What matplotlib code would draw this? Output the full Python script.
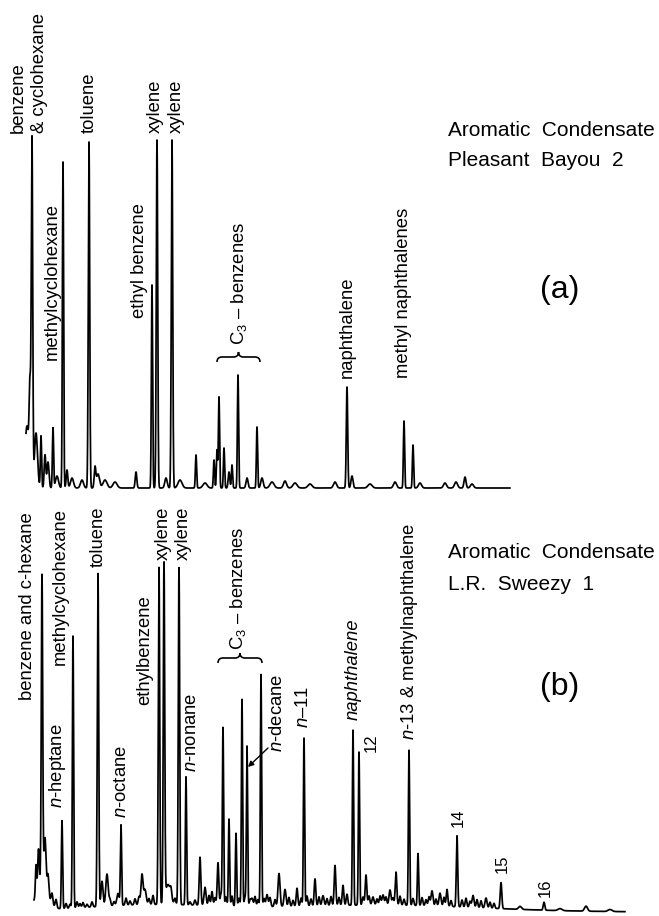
import numpy as np
import matplotlib
matplotlib.use("Agg")
import matplotlib.pyplot as plt
from matplotlib.path import Path
from matplotlib.patches import PathPatch

plt.rcParams['font.family'] = ['Liberation Sans', 'DejaVu Sans']
plt.rcParams['mathtext.fontset'] = 'custom'
plt.rcParams['mathtext.rm'] = 'Liberation Sans'
plt.rcParams['mathtext.it'] = 'Liberation Sans:italic'

# ---------------- Panel (a): Pleasant Bayou 2 ----------------
# major peaks: retention (arbitrary units), height (response units), width
a_ret = [32, 63, 89, 152, 157, 172, 219, 238, 257, 347, 404, 413]
a_height = [344, 326, 346, 203, 348, 348, 91, 113, 61, 101, 67, 43]
a_width = [0.7, 0.6, 0.7, 0.6, 0.7, 0.7, 0.6, 0.6, 0.6, 0.7, 0.6, 0.6]
# minor peaks
a_min_ret = [27, 30, 36, 41, 45, 48, 53, 57, 67, 72, 82, 95, 98, 105, 115, 136,
             166, 180, 196, 205, 214, 217, 224, 229, 232, 247, 262, 272, 285,
             295, 310, 335, 352, 370, 395, 420, 445, 456, 465, 472]
a_min_height = [62, 88, 55, 52, 33, 26, 60, 12, 18, 10, 8, 20, 14, 8, 6, 16,
                10, 8, 33, 5, 28, 38, 40, 16, 23, 10, 10, 6, 7,
                5, 4, 6, 12, 4, 6, 5, 5, 6, 11, 4]
a_min_width = [2.0, 0.8, 1.5, 0.6, 0.8, 1.0, 0.6, 1.5, 0.8, 1.5, 1.5, 0.8, 1.5, 2, 2, 0.8,
               1.2, 2, 0.6, 2, 0.6, 0.6, 0.6, 0.8, 0.6, 1, 1.2, 2, 1.5,
               2, 2, 1.5, 1, 2, 1.5, 1.5, 1.5, 1.5, 1, 1.5]
a_range = (26, 510)

# ---------------- Panel (b): L.R. Sweezy 1 ----------------
b_ret = [42, 62, 73, 98, 121, 159, 164, 179, 186, 223, 229, 236, 242, 247, 261,
         304, 353, 359, 409, 418, 457, 501, 544]
b_height = [310, 88, 272, 333, 80, 337, 337, 337, 128, 178, 87, 73, 207, 160, 232,
            168, 175, 153, 155, 52, 71, 26, 8]
b_width = [0.7, 0.6, 0.6, 0.7, 0.6, 0.7, 0.7, 0.7, 0.6, 0.6, 0.6, 0.6, 0.6, 0.6, 0.6,
           0.6, 0.6, 0.6, 0.6, 0.6, 0.7, 0.8, 0.8]
b_min_ret = [42, 36, 38.5, 45, 48, 52, 56, 80, 102, 107, 118, 142, 145, 168, 200,
             205, 218, 252, 267, 279, 285, 297, 315, 323, 335, 343, 366, 373, 383,
             390, 396, 432, 440, 447, 473, 486, 520, 560, 586, 610,
             66, 70, 77, 83, 87, 92, 110, 114, 126, 130, 135, 139, 149, 153, 171,
             175, 190, 195, 209, 212, 215, 221, 226, 232, 239, 245, 250, 255, 258,
             264, 270, 275, 289, 293, 301, 307, 311, 319, 327, 331, 339, 347, 363,
             369, 377, 380, 386, 393, 400, 404, 413, 422, 426, 429, 436, 444, 451,
             462, 466, 470, 477, 481, 490, 494]
b_min_height = [25, 30, 40, 50, 20, 10, 8, 4, 25, 32, 12, 30, 15, 20, 48,
                18, 43, 8, 12, 33, 17, 18, 27, 10, 40, 20, 30, 8, 10,
                15, 33, 15, 13, 17, 12, 10, 3, 2, 5, 2,
                5, 4, 6, 5, 3, 5, 6, 4, 7, 4, 6, 8, 6, 9, 8,
                6, 3, 5, 10, 14, 8, 12, 9, 10, 8, 9, 6, 10, 7,
                8, 9, 7, 9, 6, 8, 10, 7, 9, 7, 9, 8, 11, 8,
                9, 6, 9, 8, 7, 9, 6, 7, 8, 6, 9, 7, 9, 6,
                7, 9, 6, 8, 7, 6, 5]
b_min_width = [6.0, 0.6, 0.8, 1.0, 0.8, 0.8, 0.8, 0.8, 1.0, 1.2, 1.2, 1.0, 1.2, 2.5, 0.8,
               1.0, 0.8, 1, 1, 1.0, 1, 0.8, 0.8, 1, 0.8, 0.8, 0.8, 1, 1,
               1, 0.8, 1, 1, 0.8, 1, 1, 1.5, 2, 1.5, 2] + [0.8] * 65
b_hump_ret = [150, 380]
b_hump_height = [7, 7]
b_hump_width = [70, 100]
b_range = (34, 625)


def trace(xr, groups):
    x = np.arange(xr[0], xr[1], 0.1)
    y = np.zeros_like(x)
    for rets, hs, ws in groups:
        for r, h, w in zip(rets, hs, ws):
            y += h * np.exp(-0.5 * ((x - r) / w) ** 2)
    return x, y


fig = plt.figure(figsize=(6.59, 9.16), dpi=100)
axa = fig.add_axes([0, 416 / 916, 1, 500 / 916])
axb = fig.add_axes([0, 0, 1, 416 / 916])
axa.set_xlim(0, 659)
axa.set_ylim(-12, 488)
axb.set_xlim(0, 659)
axb.set_ylim(-4, 412)
for ax in (axa, axb):
    ax.axis('off')

xa, ya = trace(a_range, [(a_ret, a_height, a_width),
                         (a_min_ret, a_min_height, a_min_width)])
axa.plot(xa, ya, color='black', lw=1.25)

xb, yb = trace(b_range, [(b_ret, b_height, b_width),
                         (b_min_ret, b_min_height, b_min_width),
                         (b_hump_ret, b_hump_height, b_hump_width)])
axb.plot(xb, yb, color='black', lw=1.25)

LS = 13.3
NS = 12


def vlabel(ax, x, y, s, size=LS, **kw):
    ax.text(x, y, s, rotation=90, ha='center', va='bottom', fontsize=size,
            clip_on=False, **kw)


def brace(ax, x0, x1, y, h=5):
    xm = 0.5 * (x0 + x1)
    verts = [(x0, y - h), (x0, y), (x0 + h, y), (xm - h, y), (xm, y), (xm, y + h),
             (xm, y), (xm + h, y), (x1 - h, y), (x1, y), (x1, y - h)]
    codes = [Path.MOVETO, Path.CURVE3, Path.CURVE3, Path.LINETO, Path.CURVE3, Path.CURVE3,
             Path.CURVE3, Path.CURVE3, Path.LINETO, Path.CURVE3, Path.CURVE3]
    ax.add_patch(PathPatch(Path(verts, codes), fill=False, lw=1.2, color='black'))


# ---- panel (a) labels ----
vlabel(axa, 18, 355, 'benzene')
vlabel(axa, 40, 355, '& cyclohexane')
vlabel(axa, 52, 128, 'methylcyclohexane')
vlabel(axa, 89, 355, 'toluene')
vlabel(axa, 139, 170, 'ethyl benzene')
vlabel(axa, 155, 355, 'xylene')
vlabel(axa, 176, 355, 'xylene')
vlabel(axa, 239, 143, r'C$_3$ – benzenes')
brace(axa, 217, 260, 131)
vlabel(axa, 347, 110, 'naphthalene')
vlabel(axa, 403, 110, 'methyl naphthalenes')
axa.text(448, 488 - 130, 'Aromatic  Condensate', fontsize=15, ha='left', va='center')
axa.text(448, 488 - 161, 'Pleasant  Bayou  2', fontsize=15, ha='left', va='center')
axa.text(560, 488 - 290, '(a)', fontsize=23, ha='center', va='center')

# ---- panel (b) labels ----
vlabel(axb, 28, 212, 'benzene and c-hexane')
vlabel(axb, 58, 104, r'$\mathit{n}$-heptane')
vlabel(axb, 60, 247, 'methylcyclohexane')
vlabel(axb, 98, 345, 'toluene')
vlabel(axb, 121, 94, r'$\mathit{n}$-octane')
vlabel(axb, 145, 207, 'ethylbenzene')
vlabel(axb, 163, 352, 'xylene')
vlabel(axb, 183, 352, 'xylene')
vlabel(axb, 192, 140, r'$\mathit{n}$-nonane')
vlabel(axb, 238, 262, r'C$_3$ – benzenes')
brace(axb, 218, 262, 254)
vlabel(axb, 278, 160, r'$\mathit{n}$-decane')
axb.annotate('', xy=(248, 145), xytext=(268, 164),
             arrowprops=dict(arrowstyle='-|>', lw=1.0, color='black', mutation_scale=8,
                             shrinkA=0, shrinkB=0))
vlabel(axb, 304, 184, r'$\mathit{n}$–11')
vlabel(axb, 353, 192, 'naphthalene', style='italic')
vlabel(axb, 371, 160, '12', size=NS)
vlabel(axb, 409, 172, r'$\mathit{n}$-13 & methylnaphthalene')
vlabel(axb, 458, 85, '14', size=NS)
vlabel(axb, 502, 39, '15', size=NS)
vlabel(axb, 545, 15, '16', size=NS)
axb.text(448, 912 - 553, 'Aromatic  Condensate', fontsize=15, ha='left', va='center')
axb.text(448, 912 - 585, 'L.R.  Sweezy  1', fontsize=15, ha='left', va='center')
axb.text(560, 912 - 687, '(b)', fontsize=23, ha='center', va='center')

fig.savefig('out.png', dpi=100)
